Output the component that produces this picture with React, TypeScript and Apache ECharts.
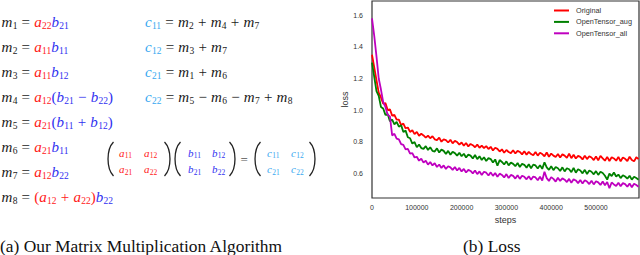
import React, { useEffect, useRef } from 'react';
import * as echarts from 'echarts';

// ---------- data (loss curves, sampled every STEP training steps) ----------
const STEP = 5000;
const SERIES_NAMES = ['Original', 'OpenTensor_aug', 'OpenTensor_all'];
const SERIES_COLORS = ['#ff0000', '#008000', '#bf00bf'];
const Y_TICKS = [0.6, 0.8, 1.0, 1.2, 1.4, 1.6];
const X_TICKS = [0, 100000, 200000, 300000, 400000, 500000];

const ORIGINAL = [
  1.35, 1.27, 1.19, 1.11, 1.08, 1.04, 1.045, 1.0, 1.005, 0.965,
  0.97, 0.94, 0.94, 0.905, 0.915, 0.885, 0.89, 0.862, 0.872, 0.848,
  0.862, 0.838, 0.85, 0.84, 0.826, 0.838, 0.822, 0.835, 0.815, 0.81,
  0.826, 0.8, 0.815, 0.81, 0.795, 0.812, 0.79, 0.805, 0.798, 0.782,
  0.795, 0.775, 0.792, 0.77, 0.786, 0.778, 0.765, 0.782, 0.762, 0.775,
  0.76, 0.772, 0.754, 0.768, 0.745, 0.762, 0.755, 0.738, 0.752, 0.73,
  0.748, 0.735, 0.728, 0.746, 0.726, 0.742, 0.735, 0.72, 0.74, 0.718,
  0.736, 0.722, 0.714, 0.735, 0.712, 0.73, 0.722, 0.708, 0.732, 0.705,
  0.725, 0.712, 0.703, 0.722, 0.7, 0.72, 0.712, 0.698, 0.725, 0.696,
  0.718, 0.694, 0.71, 0.704, 0.688, 0.712, 0.69, 0.708, 0.7, 0.684,
  0.706, 0.682, 0.71, 0.695, 0.68, 0.704, 0.678, 0.702, 0.694, 0.68,
  0.704, 0.676, 0.7, 0.692, 0.678, 0.705, 0.684, 0.676, 0.702, 0.69,
];

const AUG = [
  1.3, 1.21, 1.12, 1.09, 1.02, 1.01, 0.97, 0.975, 0.93, 0.94,
  0.91, 0.925, 0.895, 0.905, 0.862, 0.87, 0.828, 0.822, 0.788, 0.798,
  0.765, 0.782, 0.76, 0.755, 0.772, 0.748, 0.765, 0.742, 0.738, 0.758,
  0.732, 0.75, 0.742, 0.722, 0.742, 0.718, 0.736, 0.728, 0.712, 0.73,
  0.708, 0.724, 0.7, 0.718, 0.712, 0.694, 0.716, 0.69, 0.708, 0.684,
  0.702, 0.678, 0.696, 0.69, 0.668, 0.688, 0.648, 0.684, 0.672, 0.656,
  0.676, 0.65, 0.668, 0.66, 0.645, 0.665, 0.64, 0.66, 0.654, 0.636,
  0.658, 0.632, 0.655, 0.65, 0.63, 0.652, 0.628, 0.67, 0.638, 0.622,
  0.645, 0.62, 0.64, 0.632, 0.615, 0.638, 0.612, 0.632, 0.626, 0.608,
  0.635, 0.604, 0.626, 0.618, 0.6, 0.622, 0.596, 0.618, 0.61, 0.594,
  0.614, 0.59, 0.61, 0.602, 0.585, 0.56, 0.598, 0.583, 0.605, 0.58,
  0.592, 0.57, 0.588, 0.58, 0.566, 0.585, 0.56, 0.578, 0.57, 0.56,
];

const ALL = [
  1.58, 1.47, 1.34, 1.2, 1.13, 1.05, 1.02, 0.97, 0.96, 0.84,
  0.85, 0.82, 0.815, 0.785, 0.78, 0.752, 0.755, 0.725, 0.728, 0.7,
  0.705, 0.68, 0.692, 0.668, 0.68, 0.655, 0.672, 0.65, 0.664, 0.64,
  0.656, 0.634, 0.65, 0.628, 0.645, 0.638, 0.622, 0.64, 0.618, 0.634,
  0.612, 0.628, 0.605, 0.622, 0.615, 0.6, 0.618, 0.595, 0.612, 0.59,
  0.61, 0.604, 0.586, 0.606, 0.584, 0.602, 0.578, 0.598, 0.59, 0.574,
  0.595, 0.57, 0.59, 0.584, 0.567, 0.588, 0.565, 0.585, 0.578, 0.562,
  0.582, 0.56, 0.58, 0.574, 0.556, 0.578, 0.555, 0.61, 0.57, 0.552,
  0.576, 0.565, 0.548, 0.572, 0.552, 0.568, 0.56, 0.545, 0.565, 0.54,
  0.562, 0.555, 0.538, 0.558, 0.535, 0.556, 0.548, 0.532, 0.553, 0.53,
  0.55, 0.543, 0.526, 0.548, 0.525, 0.545, 0.506, 0.542, 0.53, 0.52,
  0.54, 0.518, 0.538, 0.532, 0.515, 0.536, 0.512, 0.534, 0.526, 0.515,
];

// ---------- equations (left panel) ----------
const RED = '#ff2020';
const BLUE = '#3030f0';
const CYAN = '#38a8f0';
const INK = '#1a1a1a';

type Tok = { t: string; c: string; sub?: string; k: 'v' | 'o' | 'p' };
const v = (t: string, c: string, sub?: string): Tok => ({ t, c, sub, k: 'v' });
const o = (t: string, c: string = INK): Tok => ({ t, c, k: 'o' });
const p = (t: string, c: string): Tok => ({ t, c, k: 'p' });

const M_ROWS: Tok[][] = [
  [v('m', INK, '1'), o('='), v('a', RED, '22'), v('b', BLUE, '21')],
  [v('m', INK, '2'), o('='), v('a', RED, '11'), v('b', BLUE, '11')],
  [v('m', INK, '3'), o('='), v('a', RED, '11'), v('b', BLUE, '12')],
  [v('m', INK, '4'), o('='), v('a', RED, '12'), p('(', BLUE), v('b', BLUE, '21'), o('\u2212', BLUE), v('b', BLUE, '22'), p(')', BLUE)],
  [v('m', INK, '5'), o('='), v('a', RED, '21'), p('(', BLUE), v('b', BLUE, '11'), o('+', BLUE), v('b', BLUE, '12'), p(')', BLUE)],
  [v('m', INK, '6'), o('='), v('a', RED, '21'), v('b', BLUE, '11')],
  [v('m', INK, '7'), o('='), v('a', RED, '12'), v('b', BLUE, '22')],
  [v('m', INK, '8'), o('='), p('(', RED), v('a', RED, '12'), o('+', RED), v('a', RED, '22'), p(')', RED), v('b', BLUE, '22')],
];
const M_ROW_Y = [21.7, 46.7, 71.7, 96.7, 121.5, 147, 171.5, 196.5];

const C_ROWS: Tok[][] = [
  [v('c', CYAN, '11'), o('='), v('m', INK, '2'), o('+'), v('m', INK, '4'), o('+'), v('m', INK, '7')],
  [v('c', CYAN, '12'), o('='), v('m', INK, '3'), o('+'), v('m', INK, '7')],
  [v('c', CYAN, '21'), o('='), v('m', INK, '1'), o('+'), v('m', INK, '6')],
  [v('c', CYAN, '22'), o('='), v('m', INK, '5'), o('\u2212'), v('m', INK, '6'), o('\u2212'), v('m', INK, '7'), o('+'), v('m', INK, '8')],
];

const MATRIX_CELLS: [string, string, string, number, number][] = [
  ['a', '11', RED, 119, 152.5], ['a', '12', RED, 144, 152.5],
  ['a', '21', RED, 119, 169], ['a', '22', RED, 144, 169],
  ['b', '11', BLUE, 188, 152.5], ['b', '12', BLUE, 212, 152.5],
  ['b', '21', BLUE, 188, 169], ['b', '22', BLUE, 212, 169],
  ['c', '11', CYAN, 267, 152.5], ['c', '12', CYAN, 291, 152.5],
  ['c', '21', CYAN, 267, 169], ['c', '22', CYAN, 291, 169],
];
const PARENS: [number, boolean][] = [[108, true], [170, false], [175, true], [235, false], [255, true], [315, false]];

const SERIF = 'Liberation Serif';

function textEl(x: number, y: number, t: string, size: number, italic: boolean, color: string) {
  return {
    type: 'text', x, y, silent: true,
    style: {
      text: t, fontSize: size, fontFamily: SERIF, fontStyle: italic ? 'italic' : 'normal',
      fill: color, textVerticalAlign: 'middle', verticalAlign: 'middle', textAlign: 'left', align: 'left',
    },
  };
}

function layoutLine(ctx: CanvasRenderingContext2D, x: number, y: number, toks: Tok[], size: number, subSize: number, gap: number) {
  const els: any[] = [];
  let cx = x;
  for (const tk of toks) {
    if (tk.k === 'o') cx += gap;
    const italic = tk.k === 'v';
    ctx.font = `${italic ? 'italic ' : ''}${size}px "${SERIF}"`;
    const w = ctx.measureText(tk.t).width;
    els.push(textEl(cx, y, tk.t, size, italic, tk.c));
    cx += w;
    if (tk.sub) {
      ctx.font = `${subSize}px "${SERIF}"`;
      const sw = ctx.measureText(tk.sub).width;
      els.push(textEl(cx + 0.3, y + 4, tk.sub, subSize, false, tk.c));
      cx += sw + 0.3;
    }
    if (tk.k === 'o') cx += gap;
  }
  return els;
}

function buildGraphics() {
  const canvas = document.createElement('canvas');
  const ctx = canvas.getContext('2d') as CanvasRenderingContext2D;
  const els: any[] = [];
  M_ROWS.forEach((row, i) => els.push(...layoutLine(ctx, 1.5, M_ROW_Y[i], row, 15, 9.5, 4.2)));
  C_ROWS.forEach((row, i) => els.push(...layoutLine(ctx, 145, M_ROW_Y[i], row, 15, 9.5, 4.2)));
  MATRIX_CELLS.forEach(([l, s, c, x, y]) => {
    els.push(...layoutLine(ctx, x, y, [v(l, c, s)], 11, 7.5, 0).map((e) => {
      if (e.style.fontSize === 7.5) e.y = y + 3;
      return e;
    }));
  });
  PARENS.forEach(([x, open]) => {
    const top = 142, bot = 176, h = bot - top;
    const xr = open ? x + 5.5 : x - 5.5;
    const xl = open ? x - 1.8 : x + 1.8;
    els.push({
      type: 'bezierCurve', silent: true,
      shape: { x1: xr, y1: top, x2: xr, y2: bot, cpx1: xl, cpy1: top + h * 0.22, cpx2: xl, cpy2: bot - h * 0.22 },
      style: { stroke: '#222', lineWidth: 1.3, fill: 'none' },
    });
  });
  els.push(textEl(240.5, 159, '=', 13, false, '#555'));
  // captions
  els.push({
    type: 'text', x: 0, y: 246, silent: true,
    style: { text: '(a) Our Matrix Multiplication Algorithm', fontSize: 17.4, fontFamily: SERIF, fill: '#111', textVerticalAlign: 'middle', verticalAlign: 'middle' },
  });
  els.push({
    type: 'text', x: 463, y: 246, silent: true,
    style: { text: '(b) Loss', fontSize: 17.4, fontFamily: SERIF, fill: '#111', textVerticalAlign: 'middle', verticalAlign: 'middle' },
  });
  return els;
}

export default function App() {
  const ref = useRef<HTMLDivElement>(null);
  useEffect(() => {
    document.body.style.margin = '0';
    if (!ref.current) return;
    const chart = echarts.init(ref.current, undefined, { renderer: 'svg' });
    const pairs = (arr: number[]) => arr.map((y, i) => [i * STEP, y]);
    const datasets = [ORIGINAL, AUG, ALL];
    chart.setOption({
      animation: false,
      textStyle: { fontFamily: 'Liberation Sans' },
      grid: { left: 372, right: 1, top: 1, bottom: 57, show: true, borderColor: '#333', borderWidth: 1.2 },
      xAxis: {
        type: 'value', min: 0, max: 596000,
        axisLine: { show: false }, axisTick: { show: false }, splitLine: { show: false },
        axisLabel: { customValues: X_TICKS, formatter: (val: number) => String(val), fontSize: 7, color: '#333', margin: 6 },
        name: 'steps', nameLocation: 'middle', nameGap: 16, nameTextStyle: { fontSize: 9, color: '#333' },
      },
      yAxis: {
        type: 'value', min: 0.444, max: 1.69,
        axisLine: { show: false }, axisTick: { show: false }, splitLine: { show: false },
        axisLabel: { customValues: Y_TICKS, formatter: (val: number) => val.toFixed(1), fontSize: 7, color: '#333', margin: 9 },
        name: 'loss', nameLocation: 'middle', nameGap: 23, nameRotate: 90, nameTextStyle: { fontSize: 9, color: '#333' },
      },
      legend: {
        data: SERIES_NAMES, orient: 'vertical', left: 554, top: 6, padding: 0,
        itemWidth: 15, itemHeight: 2, itemGap: 2.4, icon: 'rect',
        textStyle: { fontSize: 7.3, color: '#333', lineHeight: 9, padding: [0, 0, 0, 2] },
      },
      series: datasets.map((d, i) => ({
        name: SERIES_NAMES[i], type: 'line', data: pairs(d), showSymbol: false, symbol: 'none',
        color: SERIES_COLORS[i], lineStyle: { width: 1.8, color: SERIES_COLORS[i] }, z: 2 + i,
      })),
      graphic: buildGraphics(),
    });
    return () => chart.dispose();
  }, []);
  return <div ref={ref} style={{ width: 640, height: 255 }} />;
}
